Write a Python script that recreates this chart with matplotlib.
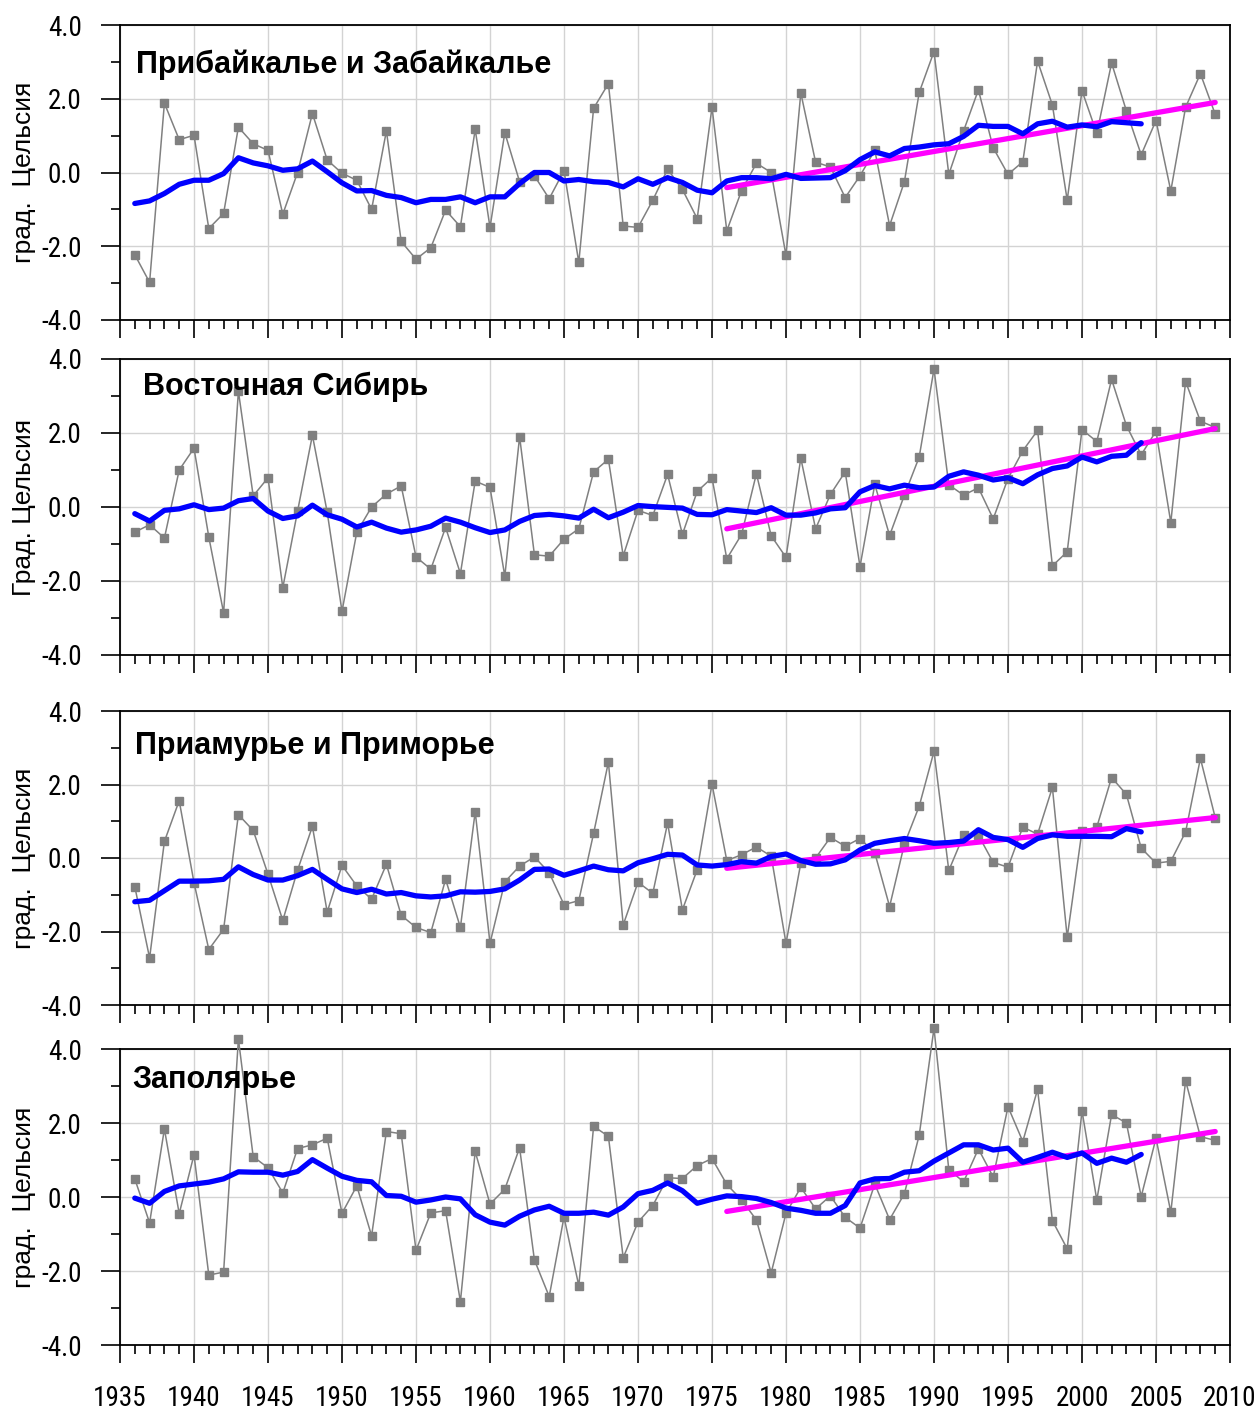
import numpy as np
import matplotlib
matplotlib.use("Agg")
import matplotlib.pyplot as plt
from matplotlib.ticker import MultipleLocator, FormatStrFormatter

years = list(range(1936, 2010))
smooth_years = list(range(1936, 2005))
trend_years = [1976, 2009]

titles = ["Прибайкалье и Забайкалье", "Восточная Сибирь",
          "Приамурье и Приморье", "Заполярье"]
ylabels = ["град.  Цельсия", "Град. Цельсия", "град.  Цельсия", "град.  Цельсия"]

# --- Прибайкалье и Забайкалье ---
anom1 = [-2.23, -2.98, 1.88, 0.89, 1.01, -1.52, -1.11, 1.23, 0.78, 0.60,
         -1.13, 0.00, 1.60, 0.34, -0.02, -0.21, -1.00, 1.13, -1.87, -2.35,
         -2.04, -1.02, -1.47, 1.17, -1.49, 1.08, -0.25, -0.09, -0.71, 0.05,
         -2.44, 1.74, 2.41, -1.45, -1.49, -0.75, 0.09, -0.46, -1.25, 1.77,
         -1.58, -0.49, 0.25, 0.00, -2.25, 2.16, 0.28, 0.15, -0.68, -0.09,
         0.60, -1.44, -0.25, 2.17, 3.28, -0.05, 1.13, 2.24, 0.67, -0.05,
         0.29, 3.02, 1.83, -0.75, 2.22, 1.06, 2.97, 1.67, 0.48, 1.41,
         -0.50, 1.77, 2.68, 1.58]
smooth1 = [-0.84, -0.77, -0.57, -0.32, -0.21, -0.21, -0.03, 0.40, 0.26, 0.18,
           0.06, 0.10, 0.31, 0.02, -0.28, -0.50, -0.49, -0.62, -0.68, -0.82,
           -0.73, -0.73, -0.66, -0.82, -0.66, -0.66, -0.30, 0.00, 0.00, -0.23,
           -0.19, -0.25, -0.27, -0.39, -0.17, -0.32, -0.14, -0.27, -0.48, -0.55,
           -0.23, -0.14, -0.14, -0.17, -0.05, -0.16, -0.15, -0.14, 0.05, 0.35,
           0.56, 0.45, 0.65, 0.69, 0.75, 0.78, 0.98, 1.28, 1.25, 1.25,
           1.05, 1.32, 1.39, 1.23, 1.29, 1.24, 1.38, 1.35, 1.32]
trend1 = [-0.41, 1.90]

# --- Восточная Сибирь ---
anom2 = [-0.68, -0.48, -0.84, 1.00, 1.59, -0.81, -2.86, 3.13, 0.30, 0.79,
         -2.18, -0.11, 1.94, -0.14, -2.82, -0.68, 0.00, 0.35, 0.57, -1.35,
         -1.68, -0.55, -1.80, 0.70, 0.53, -1.87, 1.90, -1.29, -1.33, -0.87,
         -0.59, 0.95, 1.29, -1.32, -0.09, -0.23, 0.88, -0.74, 0.42, 0.79,
         -1.40, -0.74, 0.90, -0.78, -1.36, 1.32, -0.59, 0.34, 0.95, -1.61,
         0.61, -0.77, 0.32, 1.35, 3.73, 0.60, 0.32, 0.52, -0.32, 0.77,
         1.52, 2.07, -1.59, -1.21, 2.09, 1.77, 3.45, 2.20, 1.41, 2.05,
         -0.42, 3.39, 2.32, 2.15]
smooth2 = [-0.18, -0.38, -0.09, -0.05, 0.06, -0.07, -0.03, 0.17, 0.23, -0.11,
           -0.31, -0.24, 0.05, -0.21, -0.33, -0.54, -0.41, -0.57, -0.68, -0.62,
           -0.52, -0.30, -0.41, -0.56, -0.69, -0.62, -0.39, -0.23, -0.20, -0.24,
           -0.30, -0.06, -0.29, -0.14, 0.04, 0.01, -0.01, -0.03, -0.20, -0.21,
           -0.07, -0.11, -0.15, -0.02, -0.22, -0.22, -0.16, -0.05, -0.02, 0.41,
           0.58, 0.49, 0.59, 0.52, 0.54, 0.83, 0.95, 0.86, 0.73, 0.79,
           0.63, 0.87, 1.04, 1.11, 1.35, 1.22, 1.37, 1.40, 1.74]
trend2 = [-0.59, 2.12]

# --- Приамурье и Приморье ---
anom3 = [-0.78, -2.72, 0.45, 1.56, -0.67, -2.49, -1.94, 1.18, 0.75, -0.44,
         -1.70, -0.33, 0.86, -1.47, -0.20, -0.76, -1.12, -0.17, -1.56, -1.89,
         -2.03, -0.58, -1.89, 1.26, -2.32, -0.65, -0.22, 0.03, -0.40, -1.27,
         -1.16, 0.67, 2.61, -1.82, -0.66, -0.96, 0.95, -1.41, -0.32, 2.01,
         -0.07, 0.09, 0.30, 0.05, -2.32, -0.14, 0.00, 0.56, 0.32, 0.53,
         0.14, -1.32, 0.38, 1.41, 2.90, -0.34, 0.62, 0.62, -0.12, -0.25,
         0.84, 0.65, 1.92, -2.16, 0.74, 0.84, 2.19, 1.73, 0.27, -0.14,
         -0.09, 0.71, 2.71, 1.10]
smooth3 = [-1.19, -1.15, -0.89, -0.63, -0.63, -0.62, -0.58, -0.24, -0.45, -0.60,
           -0.60, -0.48, -0.31, -0.58, -0.84, -0.94, -0.85, -0.98, -0.94, -1.03,
           -1.06, -1.03, -0.92, -0.93, -0.91, -0.84, -0.60, -0.31, -0.30, -0.47,
           -0.35, -0.22, -0.32, -0.35, -0.13, -0.02, 0.10, 0.08, -0.19, -0.22,
           -0.18, -0.10, -0.14, 0.04, 0.11, -0.07, -0.17, -0.16, -0.05, 0.22,
           0.40, 0.47, 0.53, 0.47, 0.40, 0.42, 0.46, 0.77, 0.56, 0.50,
           0.29, 0.53, 0.63, 0.59, 0.59, 0.59, 0.58, 0.80, 0.71]
trend3 = [-0.28, 1.10]

# --- Заполярье ---
anom4 = [0.49, -0.70, 1.84, -0.45, 1.14, -2.11, -2.03, 4.27, 1.09, 0.79,
         0.11, 1.31, 1.41, 1.59, -0.44, 0.30, -1.05, 1.77, 1.71, -1.44,
         -0.43, -0.37, -2.83, 1.23, -0.19, 0.21, 1.33, -1.70, -2.69, -0.54,
         -2.40, 1.91, 1.64, -1.64, -0.68, -0.23, 0.52, 0.50, 0.85, 1.04,
         0.34, -0.08, -0.62, -2.05, -0.44, 0.26, -0.32, 0.03, -0.55, -0.84,
         0.35, -0.61, 0.09, 1.67, 4.56, 0.74, 0.41, 1.30, 0.54, 2.44,
         1.50, 2.91, -0.64, -1.40, 2.33, -0.08, 2.23, 2.00, 0.01, 1.59,
         -0.41, 3.14, 1.63, 1.53]
smooth4 = [-0.03, -0.17, 0.15, 0.30, 0.35, 0.40, 0.49, 0.68, 0.67, 0.67,
           0.59, 0.69, 1.01, 0.78, 0.56, 0.45, 0.41, 0.04, 0.02, -0.14,
           -0.08, 0.00, -0.05, -0.48, -0.68, -0.76, -0.52, -0.35, -0.25, -0.44,
           -0.44, -0.41, -0.49, -0.27, 0.09, 0.18, 0.38, 0.17, -0.17, -0.06,
           0.03, 0.01, -0.04, -0.15, -0.30, -0.36, -0.44, -0.44, -0.23, 0.38,
           0.49, 0.50, 0.67, 0.71, 0.97, 1.19, 1.41, 1.41, 1.27, 1.32,
           0.94, 1.07, 1.21, 1.07, 1.19, 0.91, 1.05, 0.94, 1.15]
trend4 = [-0.39, 1.77]

anoms = [anom1, anom2, anom3, anom4]
smooths = [smooth1, smooth2, smooth3, smooth4]
trends = [trend1, trend2, trend3, trend4]

W, H = 1257, 1412
fig = plt.figure(figsize=(W / 100, H / 100), dpi=100)

# panel pixel positions (top, bottom) of the -4..4 range
panels_px = [(25, 320), (359, 655), (711, 1005), (1049, 1345)]
left_px, right_px = 120, 1230
title_pos = [(0.014, 0.837), (0.021, 0.878), (0.0135, 0.854), (0.011, 0.868)]

tick_font = ["Roboto Condensed", "DejaVu Sans"]
text_font = ["Liberation Sans", "DejaVu Sans"]

for i in range(4):
    top, bot = panels_px[i]
    ax = fig.add_axes([left_px / W, 1 - bot / H, (right_px - left_px) / W, (bot - top) / H])
    ax.set_xlim(1935, 2010)
    ax.set_ylim(-4, 4)
    ax.grid(True, which="major", color="#d3d3d3", linewidth=1.0, zorder=0)
    ax.set_axisbelow(True)

    ax.plot(years, anoms[i], color="#808080", linewidth=1.1, marker="s",
            markersize=5.5, markerfacecolor="#808080", markeredgecolor="#808080",
            zorder=3, clip_on=False)
    ax.plot(trend_years, trends[i], color="#ff00ff", linewidth=3.8,
            solid_capstyle="round", zorder=4)
    ax.plot(smooth_years, smooths[i], color="#0000ff", linewidth=3.8,
            solid_capstyle="round", solid_joinstyle="round", zorder=5)

    ax.xaxis.set_major_locator(MultipleLocator(5))
    ax.xaxis.set_minor_locator(MultipleLocator(1))
    ax.yaxis.set_major_locator(MultipleLocator(2))
    ax.yaxis.set_minor_locator(MultipleLocator(1))
    ax.yaxis.set_major_formatter(FormatStrFormatter("%.1f"))

    ax.tick_params(axis="both", which="both", direction="out", top=False, right=False,
                   width=1.2, color="black")
    ax.tick_params(axis="y", which="major", length=13.5, pad=14, labelsize=19.5)
    ax.tick_params(axis="y", which="minor", length=6.8)
    ax.tick_params(axis="x", which="major", length=13, pad=16, labelsize=19.5)
    ax.tick_params(axis="x", which="minor", length=6.5)
    if i < 3:
        ax.tick_params(axis="x", labelbottom=False)
    for lab in ax.get_yticklabels() + ax.get_xticklabels():
        lab.set_fontfamily(tick_font)

    for sp in ax.spines.values():
        sp.set_linewidth(1.3)
        sp.set_color("black")

    ax.text(title_pos[i][0], title_pos[i][1], titles[i], transform=ax.transAxes,
            fontsize=22, fontweight="bold", family=text_font,
            ha="left", va="baseline", zorder=6)

    fig.text(24 / W, 1 - (top + bot) / 2 / H, ylabels[i], rotation=90,
             ha="center", va="center", fontsize=19, family=text_font)

fig.savefig("out.png", dpi=100)
